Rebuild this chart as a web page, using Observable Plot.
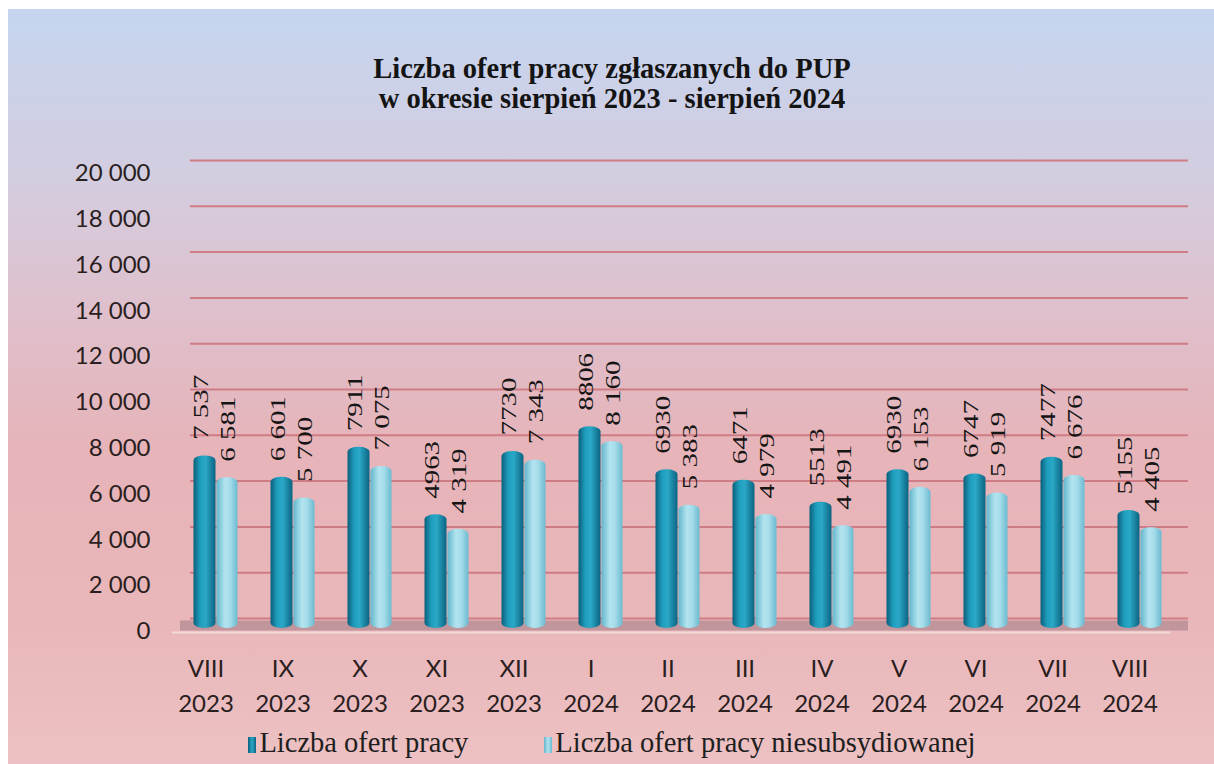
<!DOCTYPE html>
<html>
<head>
<meta charset="utf-8">
<script src="https://cdn.jsdelivr.net/npm/d3@7"></script>
<script src="https://cdn.jsdelivr.net/npm/@observablehq/plot@0.6"></script>
<style>
  html, body { margin: 0; padding: 0; background: #ffffff; }
  body { width: 1214px; height: 764px; position: relative; overflow: hidden; }
  #wrap {
    position: absolute; left: 8px; top: 9px; width: 1206px; height: 755px;
    background: linear-gradient(to bottom, #c5d5ef 0%, #d3cde0 22%, #dfc0cc 40%, #e6b4b9 58%, #e9b6b9 80%, #edc1c3 100%);
  }
  #title {
    position: absolute; left: 0; top: 54px; width: 1214px; text-align: center;
    font-family: "Liberation Serif", serif; font-weight: bold; font-size: 28.5px; line-height: 30px;
    color: #141414; padding-left: 10px; box-sizing: border-box;
  }
  #chart { position: absolute; left: 0; top: 130px; }
  #legend {
    position: absolute; left: 0; top: 727px; width: 1214px; text-align: center;
    font-family: "Liberation Serif", serif; font-size: 28.5px; color: #1e1e1e; padding-left: 10px; box-sizing: border-box;
  }
  #legend .item { display: inline-block; margin: 0 38px; }
  #legend .sw { display: inline-block; width: 8px; height: 16px; margin-right: 3px; vertical-align: -1px; }
</style>
</head>
<body>
<svg width="0" height="0" style="position:absolute">
  <defs>
    <linearGradient id="gDark" x1="0" x2="1" y1="0" y2="0">
      <stop offset="0%" stop-color="#0a5f7a"/>
      <stop offset="30%" stop-color="#1f9dbd"/>
      <stop offset="55%" stop-color="#2aa8c6"/>
      <stop offset="100%" stop-color="#0b6482"/>
    </linearGradient>
    <linearGradient id="gLight" x1="0" x2="1" y1="0" y2="0">
      <stop offset="0%" stop-color="#63b6cc"/>
      <stop offset="40%" stop-color="#b3e4ef"/>
      <stop offset="65%" stop-color="#a5dcea"/>
      <stop offset="100%" stop-color="#6bbad0"/>
    </linearGradient>
  </defs>
</svg>
<div id="wrap"></div>
<div id="title">Liczba ofert pracy zgłaszanych do PUP<br>w okresie sierpień 2023 - sierpień 2024</div>
<div id="chart"></div>
<div id="legend"></div>
<script>
// ---- data ----
const months = ["VIII","IX","X","XI","XII","I","II","III","IV","V","VI","VII","VIII"];
const years  = ["2023","2023","2023","2023","2023","2024","2024","2024","2024","2024","2024","2024","2024"];
const seriesNames = ["Liczba ofert pracy", "Liczba ofert pracy niesubsydiowanej"];
const totalOffers = [7537, 6601, 7911, 4963, 7730, 8806, 6930, 6471, 5513, 6930, 6747, 7477, 5155];
const unsubOffers = [6581, 5700, 7075, 4319, 7343, 8160, 5383, 4979, 4491, 6153, 5919, 6676, 4405];
const totalLabels = ["7 537","6 601","7911","4963","7730","8806","6930","6471","5513","6930","6747","7477","5155"];
const unsubLabels = ["6 581","5 700","7 075","4 319","7 343","8 160","5 383","4 979","4 491","6 153","5 919","6 676","4 405"];
const yTicks = [0, 2000, 4000, 6000, 8000, 10000, 12000, 14000, 16000, 18000, 20000];

// ---- derived tables ----
const cats = months.map((m, i) => m + " " + years[i]);
const catRows = cats.map((c, i) => ({cat: c, month: months[i], year: years[i]}));
const rowsTotal = cats.map((c, i) => ({cat: c, value: totalOffers[i], label: totalLabels[i]}));
const rowsUnsub = cats.map((c, i) => ({cat: c, value: unsubOffers[i], label: unsubLabels[i]}));
const fmt = d3.formatLocale({decimal: ",", thousands: "\u00a0", grouping: [3], currency: ["", ""]}).format(",d");

const labelFont = "Liberation Serif";
const chart = Plot.plot({
  width: 1214,
  height: 600,
  marginLeft: 166,
  marginRight: 46,
  marginTop: 40,
  marginBottom: 102,
  x: {domain: cats, padding: 0, axis: null},
  y: {domain: [0, 20000], axis: null},
  style: {background: "transparent", fontFamily: "Lato, sans-serif", fontSize: "24px", color: "#2a1e1e", overflow: "visible"},
  marks: [
    // floor
    Plot.ruleY([0], {stroke: "#c0959c", strokeWidth: 10, dy: -3, insetLeft: 14, insetRight: -20}),
    Plot.ruleY([0], {stroke: "#f2dada", strokeWidth: 2, dy: 4, insetLeft: 6, insetRight: -2}),
    // back-wall gridlines
    Plot.ruleY(yTicks, {y: d => d, stroke: "#cf7c84", strokeWidth: 2, dy: -10, insetLeft: 24, insetRight: -20}),
    // bars
    Plot.barY(rowsTotal, {x: "cat", y: "value", fill: "url(#gDark)", insetLeft: 27.5, insetRight: 27.5, dx: -1, rx: 11, ry: 5}),
    Plot.barY(rowsUnsub, {x: "cat", y: "value", fill: "url(#gLight)", insetLeft: 28, insetRight: 28, dx: 21.5, rx: 10, ry: 5}),
    // value labels
    Plot.text(rowsTotal, {x: "cat", y: "value", text: "label", rotate: -90, textAnchor: "start", dx: -4, dy: -16, fontFamily: labelFont, fontSize: 20, fill: "#151515"}),
    Plot.text(rowsUnsub, {x: "cat", y: "value", text: "label", rotate: -90, textAnchor: "start", dx: 23, dy: -16, fontFamily: labelFont, fontSize: 20, fill: "#151515"}),
    // x labels
    Plot.text(catRows, {x: "cat", text: "month", frameAnchor: "bottom", dy: 48, fontSize: 24, fill: "#2a1e1e"}),
    Plot.text(catRows, {x: "cat", text: "year", frameAnchor: "bottom", dy: 83, fontSize: 24, fill: "#2a1e1e"}),
    // y labels
    Plot.text(yTicks, {y: d => d, text: d => fmt(d), frameAnchor: "left", textAnchor: "end", dx: -16, dy: 3, fontSize: 24, fill: "#2a1e1e"})
  ]
});
document.getElementById("chart").appendChild(chart);

// stretch the rotated value labels along their length
d3.select(chart).selectAll(`g[font-family="${labelFont}"] text`).each(function() {
  const t = this.getAttribute("transform") || "";
  this.setAttribute("transform", t + " scale(1.45,1)");
});

// legend
const legend = d3.select("#legend");
const swatches = ["linear-gradient(to right,#0a5f7a,#2aa8c6,#0b6482)", "linear-gradient(to right,#63b6cc,#b3e4ef,#6bbad0)"];
seriesNames.forEach((name, i) => {
  const item = legend.append("span").attr("class", "item");
  item.append("span").attr("class", "sw").style("background", swatches[i]);
  item.append("span").text(name);
});
</script>
</body>
</html>
